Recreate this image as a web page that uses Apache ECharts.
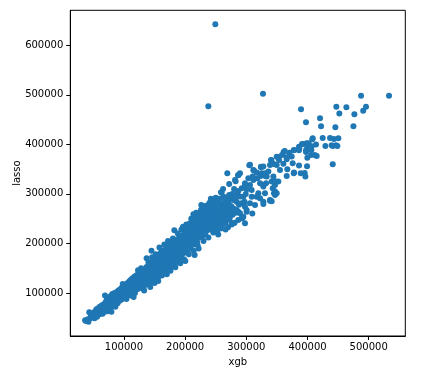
<!DOCTYPE html>
<html>
<head>
<meta charset="utf-8">
<script src="https://cdn.jsdelivr.net/npm/echarts@6/dist/echarts.min.js"></script>
<style>html,body{margin:0;padding:0;background:#fff;}#c{width:434px;height:383px;}</style>
</head>
<body>
<div id="c"></div>
<script>
const xTicks = [100000, 200000, 300000, 400000, 500000];
const yTicks = [100000, 200000, 300000, 400000, 500000, 600000];

const outliers = [[249300,642400],[327200,502400],[237900,476900]];

const lowTail = [[36500,45000],[38000,43500],[42000,42000],[43300,61000],[41000,47000],[45000,49000],[46000,56000],[48000,58000],[49000,52000],[50500,60000],[51000,55000],[52000,49000],[53000,63000],[54000,57000],[55000,67000],[56000,52000],[57000,61000],[58000,69000],[59000,64000],[60000,57000],[60500,72000],[61000,66000],[62000,60000],[63000,70000],[64000,75000],[64500,65000],[65000,58000],[66000,72000],[67000,67000],[68000,78000],[68500,62000],[69000,95000],[70000,73000],[70500,82000],[71000,68000],[72000,86000],[72500,76000],[73000,63000],[74000,80000],[74500,71000],[75000,90000],[76000,84000],[76500,66000],[77000,78000],[77500,93000],[78000,72000],[78500,87000],[79000,81000],[79500,62000],[80000,95000],[80000,75000]];

const band80to120 = [[80500,85000],[81000,98000],[81500,76000],[82000,92000],[82500,82000],[83000,88000],[83500,95000],[84000,79000],[84500,100000],[85000,86000],[85500,92000],[86000,72000],[86500,97000],[87000,83000],[87500,90000],[88000,102000],[88500,86000],[89000,94000],[89500,79000],[90000,98000],[90500,89000],[91000,105000],[91500,93000],[92000,84000],[92500,100000],[93000,91000],[93500,107000],[94000,96000],[94500,86000],[95000,103000],[95500,94000],[96000,110000],[96500,99000],[97000,88000],[97500,105000],[98000,96000],[98000,118000],[98500,112000],[99000,101000],[99500,91000],[100000,107000],[100500,98000],[101000,114000],[101500,103000],[102000,94000],[102500,110000],[103000,100000],[103500,117000],[104000,106000],[104000,88000],[104500,96000],[105000,112000],[105500,103000],[106000,120000],[106500,109000],[107000,99000],[107500,115000],[108000,105000],[108500,123000],[109000,111000],[109500,101000],[110000,118000],[110000,95000],[110500,108000],[111000,126000],[111500,114000],[112000,104000],[112500,121000],[113000,110000],[113500,129000],[114000,117000],[114500,106000],[115000,124000],[115800,92000],[116000,113000],[116500,132000],[117000,119000],[117500,109000],[118000,127000],[118000,100000],[118500,116000],[119000,134000],[119500,122000],[120000,112000]];

const band120to160 = [[120500,128000],[121000,136000],[121500,118000],[122000,131000],[122500,108000],[123000,124000],[123000,146000],[123500,139000],[124000,115000],[124500,130000],[125000,121000],[125500,136000],[126000,112000],[126500,127000],[127000,142000],[127500,119000],[128000,133000],[128000,150000],[128500,124000],[129000,110000],[129500,139000],[130000,128000],[130500,117000],[131000,135000],[131500,145000],[132000,123000],[132500,131000],[133000,114000],[133000,105000],[133500,140000],[134000,127000],[134500,148000],[135000,120000],[135500,135000],[136000,130000],[136500,152000],[137000,170000],[137500,125000],[138000,143000],[138500,118000],[139000,137000],[139500,155000],[140000,130000],[140000,162000],[140500,146000],[141000,123000],[141500,140000],[142000,158000],[142500,134000],[143000,120000],[143000,112000],[143500,150000],[144000,138000],[144500,162000],[145000,185000],[145500,128000],[146000,144000],[146000,172000],[146500,156000],[147000,133000],[147500,166000],[148000,148000],[148500,125000],[149000,140000],[149500,160000],[150000,150000],[150000,120000],[150500,131000],[151000,170000],[151500,145000],[152000,157000],[152000,178000],[152500,137000],[153000,164000],[153500,150000],[154000,128000],[154500,172000],[155000,143000],[155500,160000],[156000,153000],[156000,124000],[156500,133000],[157000,176000],[157500,147000],[158000,192000],[158000,165000],[158500,140000],[159000,157000],[159500,180000],[160000,150000]];

const band160to200 = [[160500,171000],[161000,162000],[161500,145000],[162000,184000],[162000,135000],[162500,157000],[163000,168000],[163500,150000],[164000,176000],[164500,163000],[165000,140000],[165500,186000],[166000,155000],[166000,198000],[166500,171000],[167000,160000],[167500,148000],[168000,180000],[168500,166000],[169000,190000],[169500,157000],[170000,174000],[170000,138000],[170500,146000],[171000,183000],[171500,163000],[172000,170000],[172000,205000],[172500,195000],[173000,155000],[173500,178000],[174000,165000],[174500,187000],[175000,150000],[175500,172000],[176000,193000],[176000,145000],[176500,160000],[177000,181000],[177500,168000],[178000,200000],[178500,156000],[179000,176000],[179500,187000],[180000,165000],[180000,210000],[180500,198000],[181000,172000],[181500,158000],[182300,226500],[182500,185000],[183000,193000],[183500,168000],[184000,204000],[184000,152000],[184500,178000],[185000,162000],[185500,190000],[186000,199000],[186500,173000],[187000,208000],[187500,183000],[188000,166000],[188000,220000],[188500,195000],[189000,204000],[189500,178000],[190000,188000],[190500,212000],[191000,170000],[191500,199000],[192000,184000],[192000,160000],[192500,208000],[193000,193000],[193500,176000],[194000,215000],[194000,228000],[194500,201000],[195000,186000],[195500,210000],[196500,233900],[196500,194000],[197000,180000],[197500,218000],[198000,203000],[198000,168000],[198500,190000],[199000,212000],[199500,198000],[200300,164600]];

const band200to250 = [[200500,222000],[201000,207000],[201500,191000],[202000,215000],[202000,238000],[202500,227000],[203000,200000],[203500,186000],[204000,219000],[204500,210000],[205000,232000],[205500,195000],[206000,222000],[206000,178000],[206500,205000],[207000,214000],[207500,240000],[208000,200000],[208500,227000],[209000,190000],[209500,218000],[210000,233000],[210000,250000],[210500,208000],[211000,222000],[211500,246000],[213400,258800],[212500,212000],[213000,236000],[213500,198000],[214000,226000],[214000,185000],[214500,243000],[215500,176700],[215500,218000],[216000,231000],[216500,207000],[217000,250000],[217500,223000],[218000,238000],[218000,262000],[218500,213000],[219000,228000],[219500,203000],[220400,196200],[220500,245000],[221000,220000],[221500,234000],[222000,256000],[222000,190000],[222500,212000],[223000,241000],[223500,228000],[224000,218000],[224500,262000],[225000,235000],[225500,247000],[226400,277700],[226000,268000],[226500,225000],[227000,240000],[227500,214000],[228000,253000],[228500,231000],[229000,261000],[229500,222000],[230000,246000],[230000,205000],[230500,236000],[231000,268000],[231500,228000],[232000,252000],[232500,240000],[233000,218000],[233500,258000],[234000,233000],[234000,276000],[234500,247000],[235000,272000],[235500,226000],[236000,252000],[236500,240000],[237000,262000],[237500,231000],[238000,250000],[238000,212000],[238500,270000],[239000,237000],[239500,281700],[240000,244000],[240500,258000],[241000,228000],[241500,266000],[242000,249000],[242000,290000],[242500,276000],[243000,238000],[243500,257000],[244000,243000],[244500,270000],[245000,232000],[245500,262000],[246000,250000],[246000,222000],[246500,285000],[247000,240000],[247500,266000],[248000,254000],[248500,229000],[249000,274000],[249500,245000],[250000,260000],[250000,292000]];

const band250to280 = [[250500,236000],[251000,270000],[251500,277700],[252000,248000],[252500,262000],[253000,228000],[253500,255000],[254000,283000],[254000,218000],[254500,243000],[255000,268000],[255500,290000],[256000,250000],[256500,233000],[257000,275000],[257500,258000],[258600,303200],[258000,230000],[258500,244000],[259000,265000],[259600,302600],[260000,252000],[260500,280000],[261000,238000],[261500,270000],[262000,310000],[262400,294500],[263000,256000],[263500,283000],[264000,247000],[264500,275000],[265000,262000],[265500,290000],[266000,242000],[266000,228000],[266500,268000],[267000,280000],[267800,257500],[268500,293000],[268900,341600],[269500,250000],[270000,232600],[270500,272000],[271000,285000],[271500,262000],[272000,298000],[272000,320000],[272500,248000],[273300,254100],[274000,276000],[274500,290000],[275000,265000],[276000,274300],[276000,238000],[277000,300000],[277500,258000],[278700,287800],[278800,240700],[279500,270000],[280000,310000]];

const band280to355 = [[280900,242000],[281500,328200],[281500,291100],[282500,325400],[283000,262000],[284200,284400],[284200,267600],[285000,300000],[286400,337500],[286900,305900],[286900,264200],[286900,247400],[287400,338200],[288000,278000],[289600,341600],[289600,260900],[290000,295000],[292300,281000],[292300,250700],[292400,311300],[293500,250700],[295100,294500],[295100,254100],[297000,284000],[297800,318100],[297800,274300],[297800,240700],[297800,321400],[299000,300000],[300500,309300],[300500,264200],[300500,267600],[303300,331500],[304900,357700],[306000,359100],[306000,318100],[306000,281000],[308700,308000],[308700,294500],[309800,260200],[310300,334900],[311400,348300],[311400,328200],[312500,347000],[314200,277700],[316900,343000],[316900,294500],[317900,331500],[319600,301200],[322300,291100],[322400,321400],[323400,336200],[323900,355000],[324000,353700],[325000,341600],[327800,355100],[327800,318100],[327800,284400],[327800,279700],[327800,314700],[330500,341600],[330500,301200],[331000,336200],[332200,321400],[333300,334900],[336000,345000],[338700,358400],[338700,287800],[338700,286400],[340300,368500],[340900,367800],[341400,324800],[341400,285100],[343100,311300],[344200,334900],[344700,360500],[345200,301200],[346800,318100],[346900,324800],[346900,304600],[346900,297800],[348000,324800],[349600,358400],[349600,375200],[349600,301200],[352300,324800],[352900,373900],[353400,368500],[355000,348300]];

const upper355 = [[358300,378600],[360500,361100],[361000,384700],[362700,386700],[365900,373900],[366000,369900],[366000,336200],[367000,349700],[370300,383300],[374100,375300],[375800,361800],[377400,341600],[377400,388000],[378000,343000],[378500,388700],[386100,357100],[386100,395400],[386100,388000],[386700,392800],[388800,341600],[389400,470800],[391000,400800],[393200,400800],[395400,342300],[396500,334900],[397500,444500],[397500,388000],[397600,384700],[398600,402100],[399200,355700],[399700,394100],[399700,373200],[401900,402200],[405200,390700],[405700,378600],[406300,388700],[406800,396100],[407900,410200],[408500,412300],[411700,378600],[413900,399500],[415000,376600],[420400,452600],[422100,436500],[424800,413000],[429200,396800],[436800,413000],[439500,398100],[441100,396800],[441200,359800],[443300,411000],[445500,434400],[446600,398100],[447100,476200],[448800,396800],[450400,412300],[452000,462100],[463500,474800],[475000,436500],[476600,460700],[487500,498400],[491000,468000],[495600,476200],[533200,498400]];

const allPoints = [].concat(lowTail, band80to120, band120to160, band160to200, band200to250, band250to280, band280to355, upper355, outliers);

const chart = echarts.init(document.getElementById('c'), null, {renderer: 'canvas'});
const txt = {color: '#000', fontFamily: 'DejaVu Sans', fontSize: 10};
const plain = v => String(v);
chart.setOption({
  animation: false,
  backgroundColor: '#fff',
  grid: {left: 70.3, right: 28.7, top: 10.3, bottom: 47, containLabel: false, outerBoundsMode: 'none', show: true, borderColor: '#000', borderWidth: 1, backgroundColor: 'transparent'},
  xAxis: {
    type: 'value', min: 12300, max: 559800,
    name: 'xgb', nameLocation: 'middle', nameGap: 21, nameMoveOverlap: false,
    nameTextStyle: txt,
    axisLine: {show: true, onZero: false, lineStyle: {color: '#000', width: 1}},
    axisTick: {show: true, inside: false, length: 4, customValues: xTicks, lineStyle: {color: '#000'}},
    axisLabel: Object.assign({margin: 6, customValues: xTicks, formatter: plain}, txt),
    splitLine: {show: false}
  },
  yAxis: {
    type: 'value', min: 13100, max: 670700,
    name: 'lasso', nameLocation: 'middle', nameGap: 48, nameMoveOverlap: false,
    nameTextStyle: txt,
    axisLine: {show: true, onZero: false, lineStyle: {color: '#000', width: 1}},
    axisTick: {show: true, inside: false, length: 4, customValues: yTicks, lineStyle: {color: '#000'}},
    axisLabel: Object.assign({margin: 7, customValues: yTicks, formatter: plain}, txt),
    splitLine: {show: false}
  },
  series: [{
    type: 'scatter',
    data: allPoints,
    symbolSize: 6,
    itemStyle: {color: '#1f77b4', opacity: 1},
    emphasis: {disabled: true}
  }]
});
</script>
</body>
</html>
